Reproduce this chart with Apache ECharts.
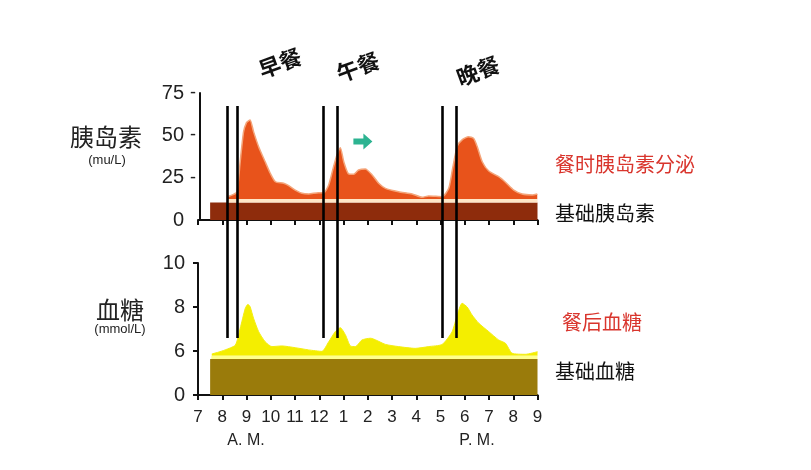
<!DOCTYPE html>
<html><head><meta charset="utf-8">
<script src="https://cdn.jsdelivr.net/npm/echarts@6/dist/echarts.min.js"></script>
<style>html,body{margin:0;padding:0;background:#fff}#c{width:811px;height:470px}</style>
</head><body><div id="c"></div>
<script>
// ---- data ----
const hourTicks = [7,8,9,10,11,12,13,14,15,16,17,18,19,20,21];
const hourTickLabels = ['7','8','9','10','11','12','1','2','3','4','5','6','7','8','9'];
const insulinTicks = [0,25,50,75];
const glucoseTicks = [0,6,8,10];
const glucoseTickLabels = ['0','6','8','10'];
const mealLineHours = [8.22,8.63,12.15,12.73,17.09,17.64];
const mealNames = ['早餐','午餐','晚餐'];
const insulinHours = [8.22,8.45,8.61,8.74,8.88,9.0,9.08,9.15,9.29,9.50,9.77,9.98,10.19,10.53,10.74,11.01,11.29,11.56,11.97,12.18,12.39,12.59,12.73,12.87,13.01,13.21,13.42,13.62,13.90,14.18,14.45,14.73,15.27,15.83,16.24,16.51,17.07,17.34,17.50,17.69,17.89,18.16,18.37,18.51,18.72,18.99,19.40,19.68,20.02,20.37,20.78,20.99];
const insulinValues = [13.8,15,16.7,34.4,52.2,57.5,58.5,59.1,52.2,43.3,34.4,27.6,22.6,21.7,20.3,17.7,15.8,15.4,16.1,16.0,20.7,31.5,38.4,42.7,34.4,27.2,27.0,29.5,30.1,26.6,21.7,18.7,16.7,15.4,13.4,14.2,13.8,18.7,30.5,43.5,47.3,49.2,48.2,43.5,34.4,28.9,25.6,22.3,17.7,15.3,14.8,15.4];
const basalInsulinHours = [7.5,21];
const basalInsulinLevel = 10.3;
const insulinFloor = 12.4;
const glucoseHours = [7.57,7.8,8.12,8.54,8.74,8.95,9.06,9.15,9.29,9.50,9.77,10.05,10.46,11.01,11.56,12.11,12.39,12.66,12.87,13.08,13.28,13.49,13.76,14.11,14.73,15.27,15.96,16.51,17.07,17.48,17.69,17.89,18.10,18.30,18.58,18.99,19.40,19.68,19.95,20.50,21.0];
const glucoseValues = [5.6,5.8,6.05,6.27,7.03,7.94,8.12,8.01,7.49,6.88,6.42,6.2,6.23,6.15,6.05,5.95,6.42,6.88,7.06,6.73,6.23,6.2,6.5,6.58,6.3,6.2,6.12,6.2,6.3,6.88,7.64,8.17,8.0,7.64,7.26,6.88,6.5,6.35,5.7,5.55,5.9];
const basalGlucoseHours = [7.5,21];
const basalGlucoseLevel = 4.9;
const glucoseFloor = 5.36;
const arrowAt = [13.8,46.4];

// broken glucose axis: ticks 0,6,8,10 equally spaced
function gAxis(v){
  for(let i=1;i<glucoseTicks.length;i++){
    if(v<=glucoseTicks[i]||i===glucoseTicks.length-1){
      const a=glucoseTicks[i-1],b=glucoseTicks[i];
      return (i-1)+(v-a)/(b-a);
    }
  }
}

const chart = echarts.init(document.getElementById('c'));
const FONT = 'Liberation Sans, Arial, sans-serif';
const CJK = 'Noto Sans CJK SC, sans-serif';
const axisBlack = {lineStyle:{color:'#111',width:2}};
const L = 198, R = 811-537.5;

function xAxisCfg(gi, showLabel){
  return {type:'value', gridIndex:gi, min:7, max:21, interval:1,
    axisLine:{show:gi!==2, ...axisBlack}, splitLine:{show:false},
    axisTick:{show:gi!==2, length:5, lineStyle:{color:'#111',width:2}},
    axisLabel:{show:showLabel, margin:14, fontSize:17, color:'#222', fontFamily:FONT,
      formatter:v=>hourTickLabels[hourTicks.indexOf(v)]}};
}

const option = {
  animation:false,
  backgroundColor:'#fff',
  grid:[
    {left:L, right:R, top:93, bottom:470-220},
    {left:L, right:R, top:263, bottom:470-395},
    {left:L, right:R, top:106, bottom:470-338}
  ],
  xAxis:[xAxisCfg(0,false), xAxisCfg(1,true), xAxisCfg(2,false)],
  yAxis:[
    {type:'value', gridIndex:0, min:0, max:75, interval:25, offset:-2,
      axisLine:{show:true, ...axisBlack}, axisTick:{show:false}, splitLine:{show:false},
      axisLabel:{margin:4, color:'#222', fontFamily:FONT, fontSize:20,
        formatter:v=> v===0 ? '{v|0}{p| }' : '{v|'+v+'}{d|-}',
        rich:{v:{fontSize:20,fontFamily:FONT,color:'#222'},
              d:{fontSize:18,width:12,align:'right',fontFamily:FONT,color:'#222'},
              p:{fontSize:18,width:12,fontFamily:FONT}}}},
    {type:'value', gridIndex:1, min:0, max:3, interval:1,
      axisLine:{show:true, ...axisBlack}, axisTick:{show:true,length:5,lineStyle:{color:'#111',width:2}}, splitLine:{show:false},
      axisLabel:{margin:13, color:'#222', fontFamily:FONT, fontSize:20,
        formatter:v=>glucoseTickLabels[v]}},
    {type:'value', gridIndex:2, min:0, max:1, show:false}
  ],
  series:[
    {name:'基础胰岛素', type:'line', xAxisIndex:0, yAxisIndex:0, z:1, symbol:'none',
      data:basalInsulinHours.map(h=>[h,basalInsulinLevel]),
      lineStyle:{width:0}, areaStyle:{color:'#8E2C0C', opacity:1}},
    {name:'stripe', type:'line', xAxisIndex:0, yAxisIndex:0, z:1, symbol:'none',
      data:[[insulinHours[0],(basalInsulinLevel+insulinFloor)/2],[21,(basalInsulinLevel+insulinFloor)/2]],
      lineStyle:{width:3.6,color:'#FFE6C6'}},
    {name:'meals', type:'line', xAxisIndex:2, yAxisIndex:2, z:2, data:[], symbol:'none',
      markLine:{silent:true, symbol:['none','none'], label:{show:false},
        lineStyle:{color:'#000', width:2.6, type:'solid'},
        data:mealLineHours.map(h=>({xAxis:h}))}},
    {name:'餐时胰岛素分泌', type:'line', xAxisIndex:0, yAxisIndex:0, z:3, symbol:'none', smooth:0.2,
      data:insulinHours.map((h,i)=>[h,insulinValues[i]]),
      lineStyle:{width:1.5,color:'#F4A57A'},
      areaStyle:{color:'#E8531B', opacity:1, origin:insulinFloor},
      markPoint:{silent:true, symbol:'path://M0,5 L10,5 L10,0 L19,8 L10,16 L10,11 L0,11 Z',
        symbolSize:[19,16], itemStyle:{color:'#2CB391'}, label:{show:false},
        data:[{coord:arrowAt}]}},
    {name:'餐后血糖', type:'line', xAxisIndex:1, yAxisIndex:1, z:3, symbol:'none', smooth:0.2,
      data:glucoseHours.map((h,i)=>[h,gAxis(glucoseValues[i])]),
      lineStyle:{width:1,color:'#F4EE10'},
      areaStyle:{color:'#F4EE00', opacity:1, origin:gAxis(glucoseFloor)}},
    {name:'gstripe', type:'line', xAxisIndex:1, yAxisIndex:1, z:4, symbol:'none',
      data:[[7.55,gAxis((basalGlucoseLevel+glucoseFloor)/2)],[21,gAxis((basalGlucoseLevel+glucoseFloor)/2)]],
      lineStyle:{width:3.2,color:'#FFFF8C'}},
    {name:'基础血糖', type:'line', xAxisIndex:1, yAxisIndex:1, z:4, symbol:'none',
      data:basalGlucoseHours.map(h=>[h,gAxis(basalGlucoseLevel)]),
      lineStyle:{width:0}, areaStyle:{color:'#9A7B0B', opacity:1}}
  ],
  graphic:[
    {type:'text', x:106, y:137, style:{text:'胰岛素', font:'24px '+CJK, fill:'#222', align:'center', verticalAlign:'middle'}},
    {type:'text', x:107, y:160, style:{text:'(mu/L)', font:'13px '+FONT, fill:'#222', align:'center', verticalAlign:'middle'}},
    {type:'text', x:120, y:310, style:{text:'血糖', font:'24px '+CJK, fill:'#222', align:'center', verticalAlign:'middle'}},
    {type:'text', x:120, y:329, style:{text:'(mmol/L)', font:'13px '+FONT, fill:'#222', align:'center', verticalAlign:'middle'}},
    {type:'text', x:280, y:63, rotation:0.35, style:{text:mealNames[0], font:'bold 22px '+CJK, fill:'#111', align:'center', verticalAlign:'middle'}},
    {type:'text', x:358, y:67, rotation:0.35, style:{text:mealNames[1], font:'bold 22px '+CJK, fill:'#111', align:'center', verticalAlign:'middle'}},
    {type:'text', x:478, y:71, rotation:0.35, style:{text:mealNames[2], font:'bold 22px '+CJK, fill:'#111', align:'center', verticalAlign:'middle'}},
    {type:'text', x:555, y:164, style:{text:'餐时胰岛素分泌', font:'20px '+CJK, fill:'#D9352D', align:'left', verticalAlign:'middle'}},
    {type:'text', x:555, y:213, style:{text:'基础胰岛素', font:'20px '+CJK, fill:'#111', align:'left', verticalAlign:'middle'}},
    {type:'text', x:562, y:322, style:{text:'餐后血糖', font:'20px '+CJK, fill:'#D9352D', align:'left', verticalAlign:'middle'}},
    {type:'text', x:555, y:371, style:{text:'基础血糖', font:'20px '+CJK, fill:'#111', align:'left', verticalAlign:'middle'}},
    {type:'text', x:246, y:441, style:{text:'A. M.', font:'16px '+FONT, fill:'#222', align:'center', verticalAlign:'middle'}},
    {type:'text', x:477, y:441, style:{text:'P. M.', font:'16px '+FONT, fill:'#222', align:'center', verticalAlign:'middle'}}
  ]
};
chart.setOption(option);
</script></body></html>
